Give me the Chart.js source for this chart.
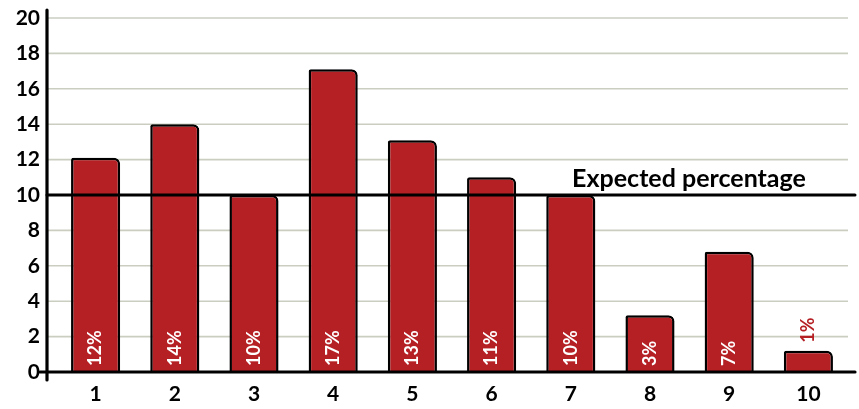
<!DOCTYPE html>
<html>
<head>
<meta charset="utf-8">
<script src="https://cdn.jsdelivr.net/npm/chart.js@4/dist/chart.umd.min.js"></script>
<style>
html,body{margin:0;padding:0;background:#fff;}
canvas{display:block;}
</style>
</head>
<body>
<canvas id="c" width="859" height="409"></canvas>
<script>
const categories = ['1','2','3','4','5','6','7','8','9','10'];
const values = [12.1, 14.0, 10.0, 17.1, 13.1, 11.0, 10.0, 3.2, 6.8, 1.2];
const pctLabels = ['12%','14%','10%','17%','13%','11%','10%','3%','7%','1%'];
const expectedValue = 10;
const expectedLabel = 'Expected percentage';
const yTicks = [0,2,4,6,8,10,12,14,16,18,20];

const FONT = 'Lato, "DejaVu Sans", sans-serif';
const RED = '#b52025';

const overlay = {
  id: 'overlay',
  beforeDatasetsDraw(chart) {
    const ctx = chart.ctx, y = chart.scales.y, a = chart.chartArea;
    ctx.save();
    ctx.strokeStyle = '#c9cec0';
    ctx.lineWidth = 1.6;
    yTicks.forEach(v => {
      if (v === 0 || v === expectedValue) return;
      const py = y.getPixelForValue(v);
      ctx.beginPath(); ctx.moveTo(47, py); ctx.lineTo(a.right, py); ctx.stroke();
    });
    ctx.restore();
  },
  afterDatasetsDraw(chart) {
    const ctx = chart.ctx, y = chart.scales.y, a = chart.chartArea;
    const meta = chart.getDatasetMeta(0);
    ctx.save();
    ctx.strokeStyle = '#000';
    ctx.lineCap = 'round';
    ctx.lineWidth = 3.2;
    const y0 = y.getPixelForValue(0);
    ctx.beginPath(); ctx.moveTo(47, 10); ctx.lineTo(47, y0 + 8); ctx.stroke();
    ctx.beginPath(); ctx.moveTo(40, y0); ctx.lineTo(855, y0); ctx.stroke();
    const ye = y.getPixelForValue(expectedValue);
    ctx.lineWidth = 3;
    ctx.beginPath(); ctx.moveTo(47, ye); ctx.lineTo(855, ye); ctx.stroke();
    ctx.fillStyle = '#000';
    ctx.font = 'bold 25px ' + FONT;
    ctx.textAlign = 'center';
    ctx.textBaseline = 'alphabetic';
    ctx.fillText(expectedLabel, 689, ye - 8);
    ctx.font = 'bold 18px ' + FONT;
    ctx.textBaseline = 'middle';
    meta.data.forEach((bar, i) => {
      ctx.save();
      const small = values[i] < 2.5;
      ctx.translate(bar.x, small ? bar.y - 8 : y0 - 6);
      ctx.rotate(-Math.PI / 2);
      ctx.textAlign = 'left';
      ctx.fillStyle = small ? RED : '#fff';
      ctx.fillText(pctLabels[i], 0, 0);
      ctx.restore();
    });
    ctx.restore();
  }
};

new Chart(document.getElementById('c'), {
  type: 'bar',
  data: {
    labels: categories,
    datasets: [{
      data: values,
      backgroundColor: RED,
      borderColor: '#000',
      borderWidth: 2.5,
      borderRadius: {topLeft: 2, topRight: 6, bottomLeft: 0, bottomRight: 0},
      borderSkipped: 'bottom',
      categoryPercentage: 1,
      barPercentage: 0.62
    }]
  },
  options: {
    responsive: false,
    animation: false,
    layout: {padding: {top: 18, right: 11, left: 0, bottom: 0}},
    plugins: {legend: {display: false}, tooltip: {enabled: false}},
    scales: {
      x: {
        afterFit: s => { s.height = 37; s.paddingLeft = 0; s.paddingRight = 0; },
        grid: {display: false, drawTicks: false},
        border: {display: false},
        ticks: {color: '#000', font: {family: FONT, size: 21, weight: 'bold'}, padding: 10}
      },
      y: {
        min: 0, max: 20,
        afterBuildTicks: s => { s.ticks = yTicks.map(v => ({value: v})); },
        afterFit: s => { s.width = 56; s.paddingTop = 0; s.paddingBottom = 0; },
        grid: {display: false, drawTicks: false},
        border: {display: false},
        ticks: {color: '#000', font: {family: FONT, size: 21, weight: 'bold'}, padding: 16}
      }
    }
  },
  plugins: [overlay]
});
</script>
</body>
</html>
